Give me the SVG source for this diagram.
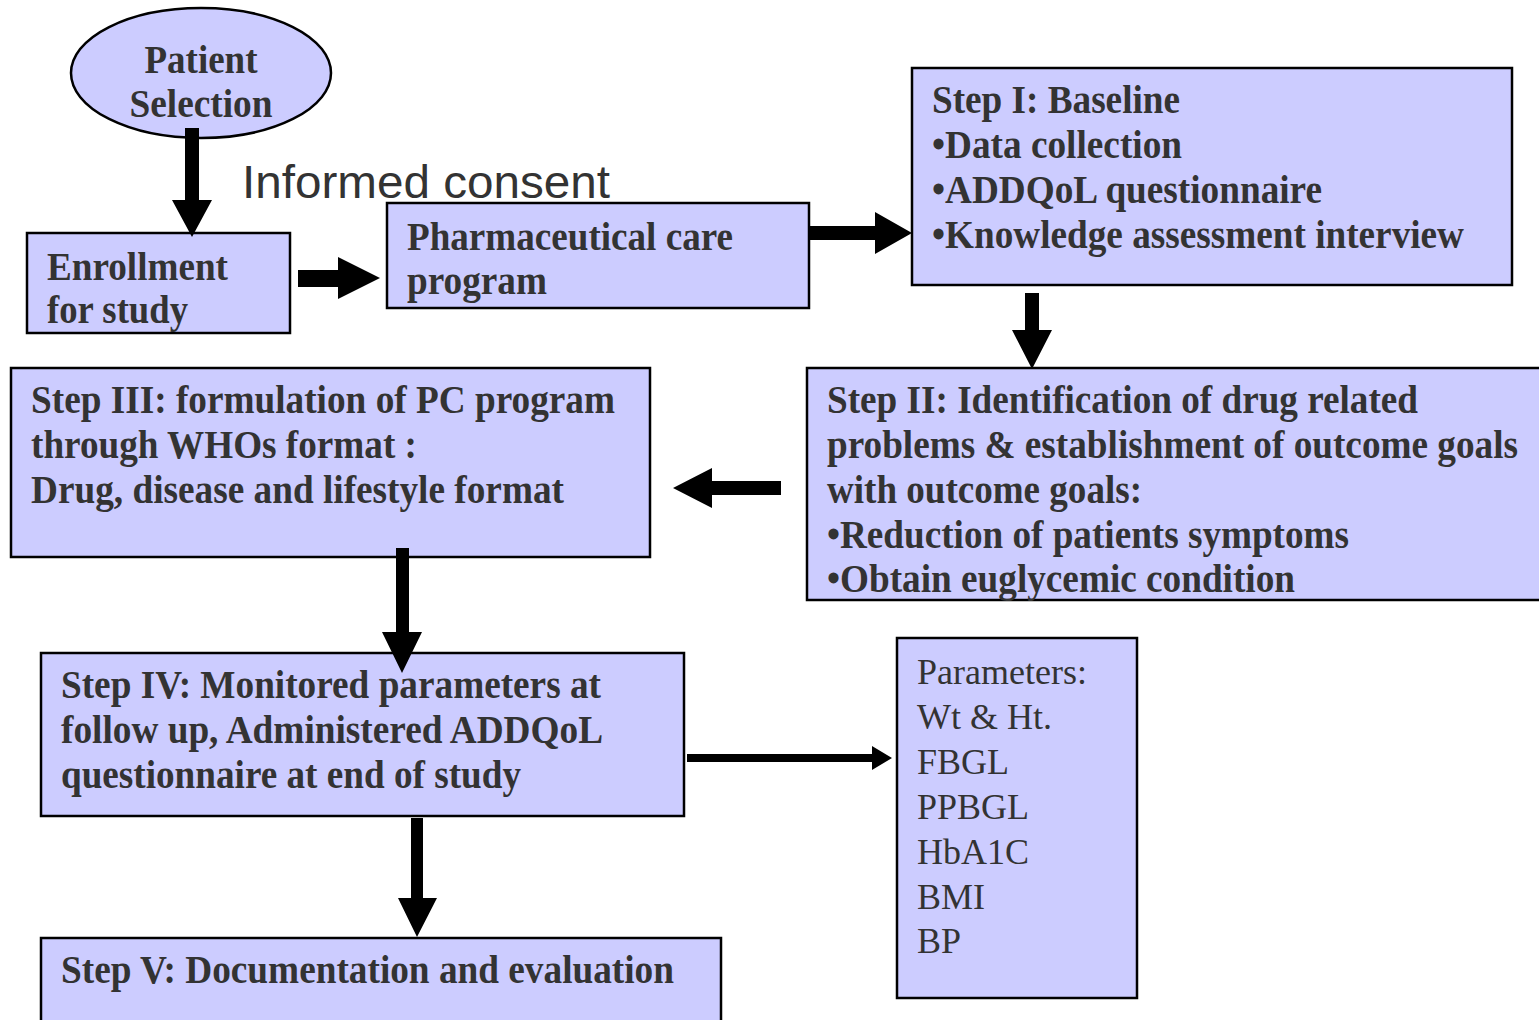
<svg xmlns="http://www.w3.org/2000/svg" width="1539" height="1020" viewBox="0 0 1539 1020">
<style>
.box{fill:#ccccff;stroke:#000;stroke-width:2.5}
.b{font-family:"Liberation Serif","Times New Roman",serif;font-weight:bold;font-size:39px;fill:#333}
.r{font-family:"Liberation Serif","Times New Roman",serif;font-size:36px;fill:#333}
.s{font-family:"Liberation Sans",Arial,sans-serif;font-size:46px;fill:#333}
.arr{fill:#000}
</style>
<rect width="1539" height="1020" fill="#fff"/>
<g id="patient-selection">
<ellipse class="box" cx="201" cy="73" rx="130" ry="65"/>
<text class="b" x="201" y="73" text-anchor="middle" textLength="113" lengthAdjust="spacingAndGlyphs">Patient</text>
<text class="b" x="201" y="117" text-anchor="middle" textLength="143" lengthAdjust="spacingAndGlyphs">Selection</text>
</g>
<g id="informed-consent">
<text class="s" x="242" y="198" textLength="368" lengthAdjust="spacingAndGlyphs">Informed consent</text>
</g>
<g id="enrollment">
<rect class="box" x="27" y="233" width="263" height="100"/>
<text class="b" x="47" y="280" textLength="181" lengthAdjust="spacingAndGlyphs">Enrollment</text>
<text class="b" x="47" y="323" textLength="141" lengthAdjust="spacingAndGlyphs">for study</text>
</g>
<g id="pharma-care">
<rect class="box" x="387" y="203" width="422" height="105"/>
<text class="b" x="407" y="250" textLength="326" lengthAdjust="spacingAndGlyphs">Pharmaceutical care</text>
<text class="b" x="407" y="294" textLength="140" lengthAdjust="spacingAndGlyphs">program</text>
</g>
<g id="step1">
<rect class="box" x="912" y="68" width="600" height="217"/>
<text class="b" x="932" y="113" textLength="248" lengthAdjust="spacingAndGlyphs">Step I: Baseline</text>
<text class="b" x="932" y="158" textLength="250" lengthAdjust="spacingAndGlyphs">•Data collection</text>
<text class="b" x="932" y="203" textLength="390" lengthAdjust="spacingAndGlyphs">•ADDQoL questionnaire</text>
<text class="b" x="932" y="248" textLength="532" lengthAdjust="spacingAndGlyphs">•Knowledge assessment interview</text>
</g>
<g id="step2">
<rect class="box" x="807" y="368" width="740" height="232"/>
<text class="b" x="827" y="413" textLength="591" lengthAdjust="spacingAndGlyphs">Step II: Identification of drug related</text>
<text class="b" x="827" y="458" textLength="691" lengthAdjust="spacingAndGlyphs">problems &amp; establishment of outcome goals</text>
<text class="b" x="827" y="503" textLength="315" lengthAdjust="spacingAndGlyphs">with outcome goals:</text>
<text class="b" x="827" y="548" textLength="522" lengthAdjust="spacingAndGlyphs">•Reduction of patients symptoms</text>
<text class="b" x="827" y="592" textLength="468" lengthAdjust="spacingAndGlyphs">•Obtain euglycemic condition</text>
</g>
<g id="step3">
<rect class="box" x="11" y="368" width="639" height="189"/>
<text class="b" x="31" y="413" textLength="584" lengthAdjust="spacingAndGlyphs">Step III: formulation of PC program</text>
<text class="b" x="31" y="458" textLength="386" lengthAdjust="spacingAndGlyphs">through WHOs format :</text>
<text class="b" x="31" y="503" textLength="533" lengthAdjust="spacingAndGlyphs">Drug, disease and lifestyle format</text>
</g>
<g id="step4">
<rect class="box" x="41" y="653" width="643" height="163"/>
<text class="b" x="61" y="698" textLength="540" lengthAdjust="spacingAndGlyphs">Step IV: Monitored parameters at</text>
<text class="b" x="61" y="743" textLength="542" lengthAdjust="spacingAndGlyphs">follow up, Administered ADDQoL</text>
<text class="b" x="61" y="788" textLength="460" lengthAdjust="spacingAndGlyphs">questionnaire at end of study</text>
</g>
<g id="parameters">
<rect class="box" x="897" y="638" width="240" height="360"/>
<text class="r" x="917" y="684">Parameters:</text>
<text class="r" x="917" y="729">Wt &amp; Ht.</text>
<text class="r" x="917" y="774">FBGL</text>
<text class="r" x="917" y="819">PPBGL</text>
<text class="r" x="917" y="864">HbA1C</text>
<text class="r" x="917" y="909">BMI</text>
<text class="r" x="917" y="953">BP</text>
</g>
<g id="step5">
<rect class="box" x="41" y="938" width="680" height="100"/>
<text class="b" x="61" y="983" textLength="613" lengthAdjust="spacingAndGlyphs">Step V: Documentation and evaluation</text>
</g>
<g id="connectors">
<polygon class="arr" points="185,128 199,128 199,200 212,200 192,237 172,200 185,200"/>
<polygon class="arr" points="298,270 338,270 338,257 380,278 338,299 338,287 298,287"/>
<polygon class="arr" points="808,226 875,226 875,212 912,233 875,254 875,240 808,240"/>
<polygon class="arr" points="1025,293 1039,293 1039,330 1052,330 1032,369 1012,330 1025,330"/>
<polygon class="arr" points="781,481 712,481 712,468 673,488 712,508 712,495 781,495"/>
<polygon class="arr" points="396,548 409,548 409,632 422,632 402,673 382,632 396,632"/>
<polygon class="arr" points="687,754 872,754 872,746 892,758 872,770 872,762 687,762"/>
<polygon class="arr" points="411,818 423,818 423,898 437,898 417,937 398,898 411,898"/>
</g>
</svg>
